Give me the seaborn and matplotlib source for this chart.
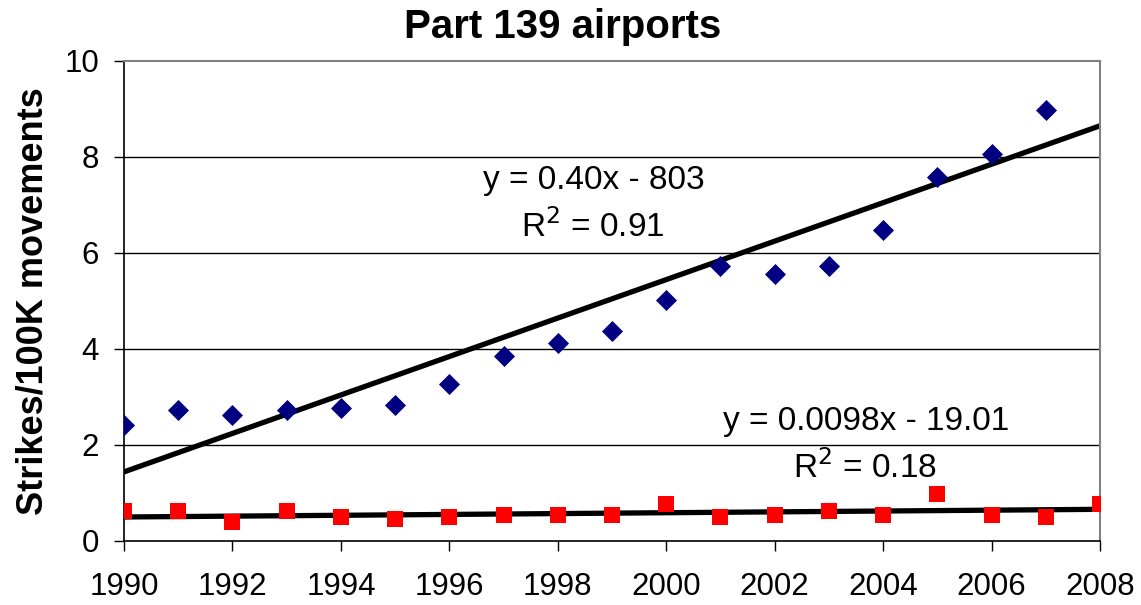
import matplotlib
matplotlib.use("Agg")
from matplotlib import pyplot as plt
import numpy as np
import pandas as pd
import seaborn as sb

# values
years = list(range(1990, 2009))
strikes_139 = [2.42, 2.73, 2.63, 2.73, 2.78, 2.83, 3.27, 3.85, 4.12, 4.38,
               5.02, 5.72, 5.56, 5.72, 6.47, 7.58, 8.06, 8.97, np.nan]
strikes_other = [0.62, 0.62, 0.40, 0.62, 0.50, 0.45, 0.50, 0.55, 0.55, 0.55,
                 0.77, 0.50, 0.55, 0.62, 0.55, 0.98, 0.55, 0.50, 0.77]
# linear trendlines (Excel), value at start and end year
trend_years = [1990, 2008]
trend_139 = [1.44, 8.65]
trend_other = [0.50, 0.66]
x_ticks = list(range(1990, 2009, 2))
y_ticks = [0, 2, 4, 6, 8, 10]

df = pd.DataFrame({"Year": years, "Upper": strikes_139, "Lower": strikes_other})
df_trend = pd.DataFrame({"Year": trend_years, "Upper": trend_139, "Lower": trend_other})

sb.set_theme(style="white")
plt.rcParams["font.family"] = ["Liberation Sans", "DejaVu Sans"]
plt.rcParams["text.color"] = "black"
plt.rcParams["axes.labelcolor"] = "black"

fig = plt.figure(figsize=(11.41, 6.05), dpi=100)
ax = fig.add_axes([0.1087, 0.1058, 0.8554, 0.7934])

#gridlines
for yv in y_ticks[1:-1]:
    ax.axhline(yv, color="black", lw=1, zorder=0)

sb.lineplot(data=df_trend, x="Year", y="Upper", ax=ax, color="black", lw=3.8, zorder=2)
sb.lineplot(data=df_trend, x="Year", y="Lower", ax=ax, color="black", lw=3.8, zorder=2)
sb.scatterplot(data=df, x="Year", y="Upper", ax=ax, marker="D", color="#000080",
               s=115, linewidth=0, zorder=3)
sb.scatterplot(data=df, x="Year", y="Lower", ax=ax, marker="s", color="#ff0000",
               s=125, linewidth=0, zorder=3)
ax.set_xlim(1990, 2008)
ax.set_ylim(0, 10)

ax.set_xticks(x_ticks)
ax.set_yticks(y_ticks)
ax.tick_params(axis="both", labelsize=22.5, colors="black", direction="out",
               length=7, width=1, left=True, bottom=True)
ax.tick_params(axis="x", pad=15)
ax.tick_params(axis="y", pad=11)
ax.set_xlabel("")
ax.set_ylabel("Strikes/100K movements", fontsize=26, fontweight="bold", labelpad=10,
              color="black")
fig.text(0.4934, 0.955, "Part 139 airports", fontsize=29, fontweight="bold",
         ha="center", va="center", color="black")

for side in ["left", "bottom"]:
    ax.spines[side].set_color("black")
    ax.spines[side].set_linewidth(1.2)
for side in ["top", "right"]:
    ax.spines[side].set_color("#808080")
    ax.spines[side].set_linewidth(1.5)

ax.text(1998.67, 7.52, "y = 0.40x - 803", fontsize=24, ha="center", va="center")
ax.text(1998.65, 6.56, "R$^2$ = 0.91", fontsize=24, ha="center", va="center")
ax.text(2003.68, 2.48, "y = 0.0098x - 19.01", fontsize=24, ha="center", va="center")
ax.text(2003.67, 1.52, "R$^2$ = 0.18", fontsize=24, ha="center", va="center")

fig.savefig("out.png", dpi=100)
